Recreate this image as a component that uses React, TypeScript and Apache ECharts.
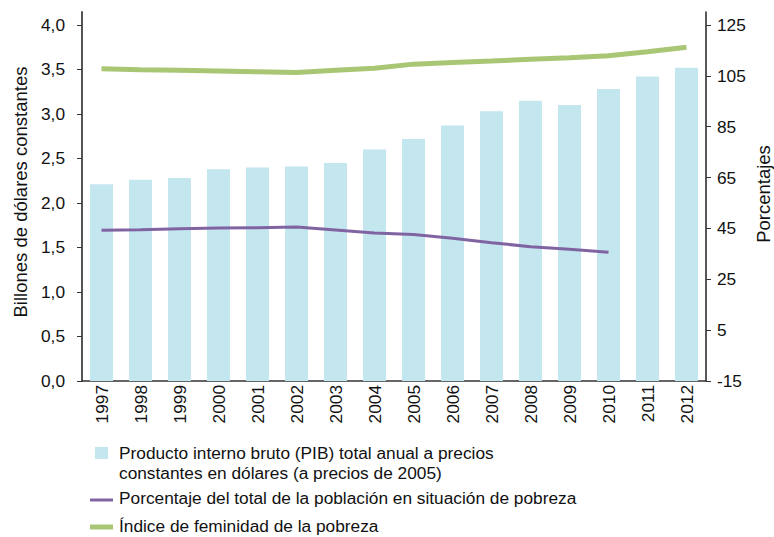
import React, { useEffect, useRef } from "react";
import * as echarts from "echarts";

const years = ["1997","1998","1999","2000","2001","2002","2003","2004","2005","2006","2007","2008","2009","2010","2011","2012"];
const pib = [2.21, 2.26, 2.28, 2.38, 2.40, 2.41, 2.45, 2.60, 2.72, 2.87, 3.03, 3.15, 3.10, 3.28, 3.42, 3.52];
const pobreza = [44.3, 44.5, 44.9, 45.2, 45.3, 45.6, 44.4, 43.2, 42.6, 41.1, 39.4, 37.8, 36.8, 35.6, null, null];
const feminidad = [107.8, 107.4, 107.2, 106.9, 106.6, 106.3, 107.2, 108.0, 109.6, 110.2, 110.8, 111.5, 112.1, 112.9, 114.5, 116.2];
const leftTicks = [0, 0.5, 1, 1.5, 2, 2.5, 3, 3.5, 4];
const rightTicks = [-15, 5, 25, 45, 65, 85, 105, 125];
const namePib = "Producto interno bruto (PIB) total anual a precios\nconstantes en dólares (a precios de 2005)";
const namePobreza = "Porcentaje del total de la población en situación de pobreza";
const nameFem = "Índice de feminidad de la pobreza";
const leftName = "Billones de dólares constantes";
const rightName = "Porcentajes";

const FONT = "Liberation Sans, Arial, sans-serif";
const BAR = "#c4e6ef";
const PURPLE = "#8064a2";
const GREEN = "#a9c674";
const TXT = "#111";
const FS = 17.3;

export default function App() {
  const ref = useRef<HTMLDivElement>(null);
  useEffect(() => {
    if (!ref.current) return;
    const chart = echarts.init(ref.current, undefined, { renderer: "svg" });
    chart.setOption({
      animation: false,
      textStyle: { fontFamily: FONT },
      grid: { left: 82, right: 68, top: 12, bottom: 156, containLabel: false },
      xAxis: {
        type: "category",
        data: years,
        axisLine: { lineStyle: { color: "#333", width: 1.5 } },
        axisTick: { show: false },
        axisLabel: { rotate: 90, color: TXT, fontSize: FS, fontFamily: FONT, margin: 4 },
      },
      yAxis: [
        {
          type: "value",
          min: 0,
          max: 4.146,
          splitLine: { show: false },
          axisLine: { show: true, lineStyle: { color: "#555", width: 2 } },
          axisTick: { show: true, length: 5, lineStyle: { color: "#333" }, customValues: leftTicks },
          axisLabel: {
            customValues: leftTicks,
            color: TXT,
            fontSize: FS,
            fontFamily: FONT,
            margin: 17,
            formatter: (v: number) => v.toFixed(1).replace(".", ","),
          },
        },
        {
          type: "value",
          min: -15,
          max: 130.1,
          position: "right",
          splitLine: { show: false },
          axisLine: { show: true, lineStyle: { color: "#222", width: 1.5 } },
          axisTick: { show: true, length: 5, lineStyle: { color: "#333" }, customValues: rightTicks },
          axisLabel: { customValues: rightTicks, color: TXT, fontSize: FS, fontFamily: FONT, margin: 11 },
        },
      ],
      series: [
        {
          type: "bar",
          data: pib,
          yAxisIndex: 0,
          barWidth: "59%",
          itemStyle: { color: BAR },
        },
        {
          type: "line",
          data: pobreza,
          yAxisIndex: 1,
          symbol: "none",
          lineStyle: { color: PURPLE, width: 3 },
        },
        {
          type: "line",
          data: feminidad,
          yAxisIndex: 1,
          symbol: "none",
          lineStyle: { color: GREEN, width: 5 },
        },
      ],
      graphic: [
        { type: "text", x: 20, y: 192, rotation: Math.PI / 2, style: { text: leftName, font: `18.5px ${FONT}`, fill: TXT, align: "center", verticalAlign: "middle" } },
        { type: "text", x: 763, y: 194, rotation: Math.PI / 2, style: { text: rightName, font: `18.5px ${FONT}`, fill: TXT, align: "center", verticalAlign: "middle" } },
        { type: "rect", shape: { x: 95, y: 447, width: 13, height: 12 }, style: { fill: BAR } },
        { type: "text", x: 119, y: 443, style: { text: namePib, font: `${FS}px ${FONT}`, lineHeight: 20, fill: TXT, verticalAlign: "top" } },
        { type: "line", shape: { x1: 90, y1: 500, x2: 113, y2: 500 }, style: { stroke: PURPLE, lineWidth: 3 } },
        { type: "text", x: 119, y: 498, style: { text: namePobreza, font: `${FS}px ${FONT}`, fill: TXT, verticalAlign: "middle" } },
        { type: "line", shape: { x1: 90, y1: 527, x2: 113, y2: 527 }, style: { stroke: GREEN, lineWidth: 5 } },
        { type: "text", x: 119, y: 526, style: { text: nameFem, font: `${FS}px ${FONT}`, fill: TXT, verticalAlign: "middle" } },
      ],
    });
    return () => chart.dispose();
  }, []);
  return <div ref={ref} style={{ width: 774, height: 537, position: "absolute", left: 0, top: 0 }} />;
}
